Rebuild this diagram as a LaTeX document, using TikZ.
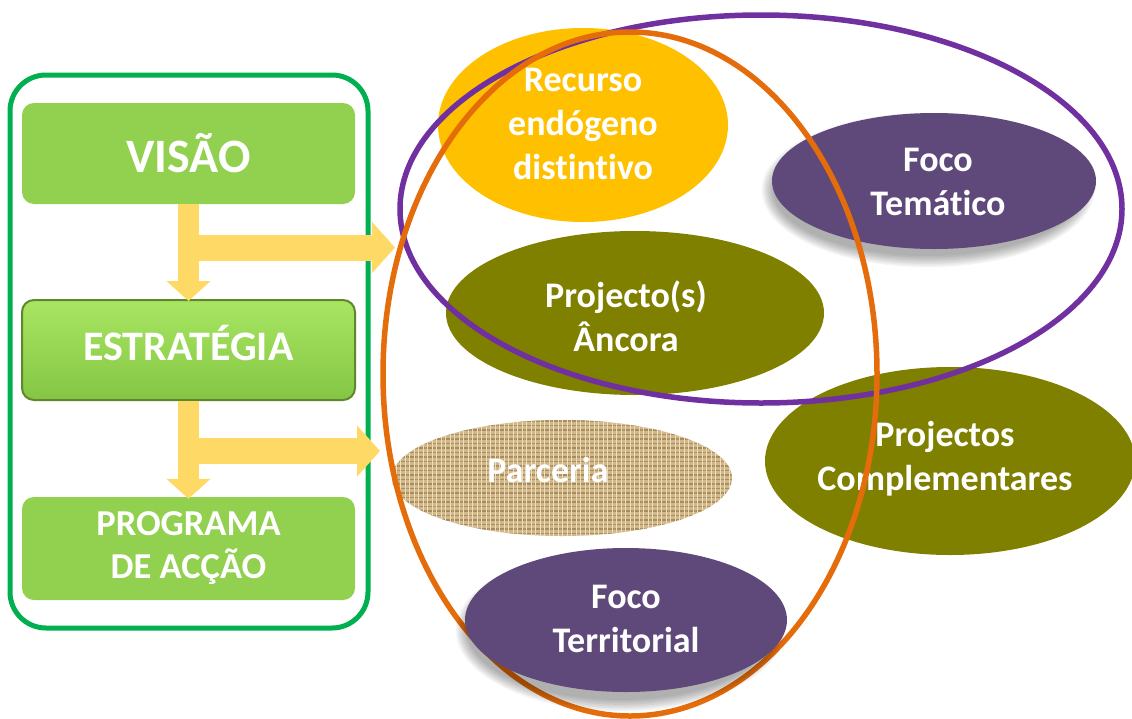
\documentclass[tikz,border=0pt]{standalone}
\usepackage{fontspec}
\setmainfont{Carlito}[Ligatures=NoCommon]
\usetikzlibrary{shapes.geometric,arrows.meta,patterns.meta}
\definecolor{boxgreen}{RGB}{0,176,80}
\definecolor{lightgreen}{RGB}{146,208,80}
\definecolor{arrowyellow}{RGB}{255,217,102}
\definecolor{ambar}{RGB}{255,192,0}
\definecolor{olivefill}{RGB}{128,128,0}
\definecolor{violetfill}{RGB}{95,73,122}
\definecolor{violetline}{RGB}{112,48,160}
\definecolor{orangeline}{RGB}{228,108,10}
\definecolor{burlap}{RGB}{208,184,138}
\definecolor{burlapdark}{RGB}{168,140,96}
\definecolor{burlaplight}{RGB}{238,222,186}
\newcommand\lblfont{\fontsize{36}{44}\selectfont\bfseries}
\begin{document}
\begin{tikzpicture}[x=1pt,y=-1pt,
  gbox/.style={rectangle, rounded corners=12pt, minimum width=333pt, inner sep=0pt, text=white, align=center},
  blob/.style={ellipse, inner sep=0pt},
  lbl/.style={text=white, align=center, font=\lblfont, inner sep=0pt},
  ring/.style={ellipse, inner sep=0pt, line width=5.5pt},
  yv/.style={draw=arrowyellow, line width=21pt, -{Triangle[width=43pt,length=20pt]}},
  yh/.style={draw=arrowyellow, line width=26pt, -{Triangle[width=50pt,length=23pt]}},
  softshadow/.style={fill=black, fill opacity=0.045}
]
\useasboundingbox[fill=white] (0,0) rectangle (1132,718);

% left column
\node[draw=boxgreen, line width=5pt, rounded corners=36pt, minimum width=358pt, minimum height=553pt, inner sep=0pt] (frame) at (189,351.5) {};
\node[gbox, fill=lightgreen, minimum height=101pt, font=\fontsize{48}{50}\selectfont\bfseries] (visao) at (188.5,153.5) {VISÃO};
\node[gbox, top color={rgb,255:red,168;green,230;blue,98}, bottom color={rgb,255:red,132;green,198;blue,68}, draw={rgb,255:red,95;green,135;blue,45}, line width=2pt, minimum height=100pt, font=\fontsize{42}{44}\selectfont\bfseries] (estrategia) at (188.5,350) {\raisebox{7pt}[\height][\depth]{ESTRATÉGIA}};
\node[gbox, fill=lightgreen, minimum height=103pt, font=\fontsize{36.5}{43}\selectfont\bfseries] (programa) at (188.5,548.5) {PROGRAMA\\DE ACÇÃO};

% arrows
\coordinate (h1s) at (189,247.5);
\coordinate (h1e) at (395,247.5);
\coordinate (h2s) at (189,451);
\coordinate (h2e) at (380,451);
\draw[yh] (h1s) -- (h1e);
\draw[yv] (visao.south) -- ([yshift=-2pt]estrategia.north);
\draw[yh] (h2s) -- (h2e);
\draw[yv] (estrategia.south) -- ([yshift=-2pt]programa.north);

% ellipses
\node[blob, fill=ambar, minimum width=290pt, minimum height=194pt] (recurso) at (583,125) {};
\foreach \k in {0,...,7}
  \fill[softshadow] (928,190) ellipse [x radius=155+1.6*\k, y radius=66+1.6*\k];
\node[blob, fill=violetfill, minimum width=324pt, minimum height=136pt] (tematico) at (934,181) {};
\node[blob, fill=olivefill, minimum width=378pt, minimum height=164pt] (ancora) at (635,313) {};
\node[blob, fill=burlap, minimum width=340pt, minimum height=116pt,
  postaction={pattern={Lines[angle=0,distance=4.5pt,line width=1.2pt]}, pattern color=burlapdark},
  postaction={pattern={Lines[angle=90,distance=4.5pt,line width=1pt]}, pattern color=burlaplight}] (parceria) at (562,478) {};
\node[blob, fill=olivefill, minimum width=370pt, minimum height=188pt] (compl) at (950,461) {};

\node[lbl] (trecurso) at (583,124) {Recurso\\endógeno\\distintivo};
\node[lbl] (ttematico) at (938,182) {Foco\\Temático};
\node[lbl] (tancora) at (626,316) {Projecto(s)\\Âncora};
\node[lbl] (tparceria) at (548,470) {Parceria};
\node[lbl] (tcompl) at (945,459) {Projectos\\Complementares};

% rings
\node[ring, draw=violetline, minimum width=722pt, minimum height=388pt] (violetring) at (761,209) {};
\node[ring, draw=orangeline, minimum width=494pt, minimum height=684pt] (orangering) at (630,374) {};

% front ellipse
\foreach \k in {0,...,7}
  \fill[softshadow] (620,630) ellipse [x radius=153+1.6*\k, y radius=70+1.6*\k];
\node[blob, fill=violetfill, minimum width=322pt, minimum height=144pt] (territorial) at (626,620) {};
\node[lbl] (tterritorial) at (626,619) {Foco\\Territorial};
\end{tikzpicture}
\end{document}
